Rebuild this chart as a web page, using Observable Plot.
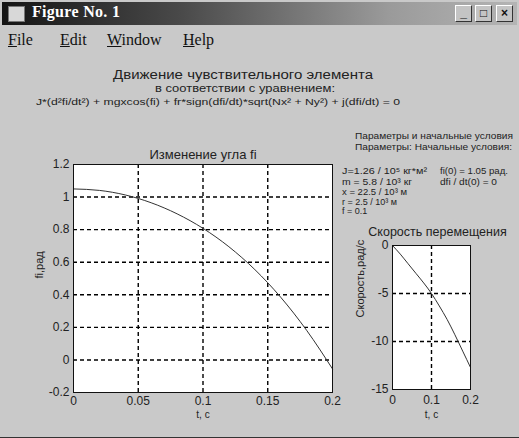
<!DOCTYPE html>
<html><head><meta charset="utf-8">
<script src="https://cdn.jsdelivr.net/npm/d3@7"></script>
<script src="https://cdn.jsdelivr.net/npm/@observablehq/plot@0.6"></script>
<style>
html,body{margin:0;padding:0;background:#c9c9c9;}
#win{position:relative;width:519px;height:437px;background:#c9c9c9;overflow:hidden;border-bottom:1px solid #333;font-family:"Liberation Sans",Arial,sans-serif;}
#titlebar{position:absolute;left:2px;top:2px;width:515px;height:23px;background:linear-gradient(to right,#141414 0%,#4a4a4a 35%,#9a9a9a 75%,#b4b4b4 100%);}
#icon{position:absolute;left:6px;top:4px;width:15px;height:14px;background:#d8d8d8;border:1px solid #777;}
#ttl{position:absolute;left:30px;top:1px;color:#fff;font:bold 16px "Liberation Serif","Times New Roman",serif;letter-spacing:0.3px;}
.btn{position:absolute;top:3px;width:15px;height:15px;background:#c4c4c4;border:1px solid;border-color:#fff #333 #333 #fff;font:bold 12px "Liberation Sans",Arial,sans-serif;text-align:center;line-height:15px;color:#111;}
.m{position:absolute;top:31px;font:16px "Liberation Serif","Times New Roman",serif;color:#111;}
.abs{position:absolute;}
</style></head>
<body>
<div id="win">
  <div id="titlebar"><div id="icon"></div><div id="ttl">Figure No. 1</div>
    <div class="btn" style="left:453px">_</div>
    <div class="btn" style="left:473px">□</div>
    <div class="btn" style="left:494px">×</div>
  </div>
  <div class="m" style="left:8px"><u>F</u>ile</div>
  <div class="m" style="left:60px"><u>E</u>dit</div>
  <div class="m" style="left:107px"><u>W</u>indow</div>
  <div class="m" style="left:183px"><u>H</u>elp</div>
  <svg id="txt" class="abs" width="519" height="438" style="left:0;top:0;overflow:visible"></svg>
  <div id="mainplot" class="abs" style="left:0;top:140px"></div>
  <div id="velplot" class="abs" style="left:340px;top:215px"></div>
</div>
<script>
// ---- data ----
const t  = [0, 0.02, 0.04, 0.06, 0.08, 0.10, 0.12, 0.14, 0.16, 0.18, 0.20];
const fi = [1.05, 1.041, 1.013, 0.965, 0.897, 0.808, 0.695, 0.555, 0.385, 0.182, -0.055];
const v  = [0, -0.9, -1.9, -2.9, -3.9, -5.0, -6.3, -7.7, -9.3, -11.0, -12.7];

const mainXTicks = [0, 0.05, 0.1, 0.15, 0.2];
const mainYTicks = [-0.2, 0, 0.2, 0.4, 0.6, 0.8, 1.0, 1.2];
const velXTicks = [0, 0.1, 0.2];
const velYTicks = [-15, -10, -5, 0];

const headerLines = [
  "Движение чувствительного элемента",
  "в соответствии с уравнением:",
  "J*(d²fi/dt²) + mgxcos(fi) + fr*sign(dfi/dt)*sqrt(Nx² + Ny²) + j(dfi/dt) = 0"
];
const paramLines = [
  "Параметры и начальные условия",
  "Параметры:   Начальные условия:",
  "J=1.26 / 10⁵ кг*м²",
  "m = 5.8 / 10³ кг",
  "x = 22.5 / 10³ м",
  "r = 2.5 / 10³ м",
  "f = 0.1"
];
const initLines = ["fi(0) = 1.05 рад.", "dfi / dt(0) = 0"];
const mainTitle = "Изменение угла fi";
const mainYLabel = "fi,рад";
const velTitle = "Скорость перемещения";
const velYLabel = "Скорость,рад/с";
const xLabel = "t, c";

// ---- free text ----
const font = '"Liberation Sans", Arial, sans-serif';
const svg = d3.select("#txt");
function put(str, x, y, size, len) {
  const el = svg.append("text").attr("x", x).attr("y", y)
    .attr("dominant-baseline", "central")
    .attr("font-family", font).attr("font-size", size).attr("fill", "#222")
    .text(str);
  if (len) el.attr("textLength", len).attr("lengthAdjust", "spacingAndGlyphs");
}
put(headerLines[0], 113, 75, 12.5, 260);
put(headerLines[1], 155, 88, 10, 180);
put(headerLines[2], 36, 101, 9.5, 364);
put(paramLines[0], 355, 136, 9, 158);
put(paramLines[1], 355, 147, 9, 157);
put(paramLines[2], 342, 171, 9, 85);
put(paramLines[3], 342, 182, 9, 70);
put(paramLines[4], 342, 192, 9, 65);
put(paramLines[5], 342, 202, 9, 55);
put(paramLines[6], 342, 211, 9);
put(initLines[0], 440, 171, 9, 68);
put(initLines[1], 440, 182, 9, 57);

// ---- plots ----
const rows = t.map((d, i) => ({t: d, fi: fi[i], v: v[i]}));
const style = {background: "transparent", fontFamily: font, fontSize: "12px", color: "#222", overflow: "visible"};
const grid = {stroke: "#000", strokeOpacity: 1, strokeWidth: 1.4, strokeDasharray: "4,3"};
const inner = (arr) => arr.slice(1, -1);

const main = Plot.plot({
  width: 345, height: 290, marginLeft: 73, marginRight: 13, marginTop: 24, marginBottom: 38,
  style,
  x: {domain: [0, 0.2]},
  y: {domain: [-0.2, 1.2]},
  marks: [
    Plot.frame({fill: "white"}),
    Plot.gridX({ticks: inner(mainXTicks), ...grid}),
    Plot.gridY({ticks: inner(mainYTicks), ...grid}),
    Plot.line(rows, {x: "t", y: "fi", stroke: "#333", strokeWidth: 1, curve: "monotone-x"}),
    Plot.frame({stroke: "#111", strokeWidth: 1}),
    Plot.axisX({ticks: mainXTicks, tickSize: 0, tickPadding: 4, label: null,
      tickFormat: d => d === 0 ? "0" : String(d)}),
    Plot.axisY({ticks: mainYTicks, tickSize: 0, tickPadding: 4, label: null,
      tickFormat: d => String(Math.round(d * 10) / 10)}),
    Plot.text([mainTitle], {text: d => d, frameAnchor: "top", dy: -15, fontSize: 13}),
    Plot.text([mainYLabel], {text: d => d, frameAnchor: "left", dx: -34, rotate: -90, fontSize: 11}),
    Plot.text([xLabel], {text: d => d, frameAnchor: "bottom", dy: 25, fontSize: 10})
  ]
});
document.getElementById("mainplot").append(main);

const vel = Plot.plot({
  width: 140, height: 210, marginLeft: 52, marginRight: 10, marginTop: 30, marginBottom: 36,
  style,
  x: {domain: [0, 0.2]},
  y: {domain: [-15, 0]},
  marks: [
    Plot.frame({fill: "white"}),
    Plot.gridX({ticks: inner(velXTicks), ...grid}),
    Plot.gridY({ticks: inner(velYTicks), ...grid}),
    Plot.line(rows, {x: "t", y: "v", stroke: "#333", strokeWidth: 1, curve: "monotone-x"}),
    Plot.frame({stroke: "#111", strokeWidth: 1}),
    Plot.axisX({ticks: velXTicks, tickSize: 0, tickPadding: 6, label: null,
      tickFormat: d => d === 0 ? "0" : String(d)}),
    Plot.axisY({ticks: velYTicks, tickSize: 0, tickPadding: 4, label: null,
      tickFormat: d => String(d)}),
    Plot.text([velTitle], {text: d => d, frameAnchor: "top", dy: -18, dx: 6, fontSize: 12.5}),
    Plot.text([velYLabel], {text: d => d, frameAnchor: "left", dx: -32, rotate: -90, fontSize: 11}),
    Plot.text([xLabel], {text: d => d, frameAnchor: "bottom", dy: 28, fontSize: 10})
  ]
});
document.getElementById("velplot").append(vel);
</script>
</body></html>
